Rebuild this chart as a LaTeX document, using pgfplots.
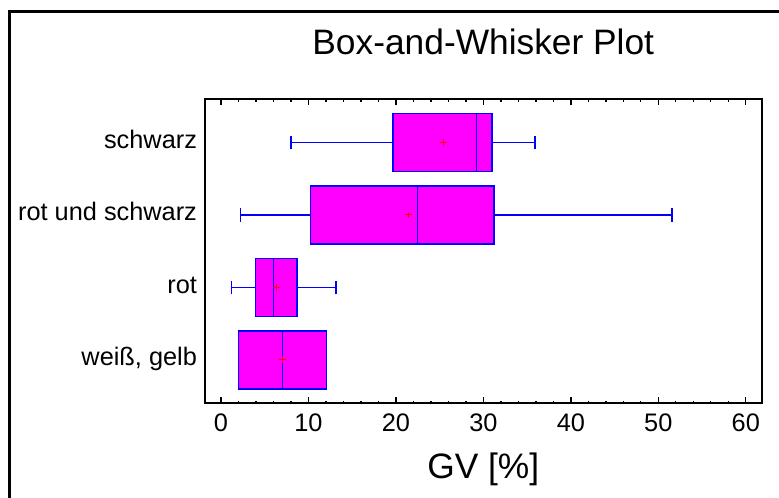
\documentclass[border=0pt]{standalone}
\usepackage{pgfplots}
\pgfplotsset{compat=1.18}
\usepgfplotslibrary{statistics}
\usepackage{fontspec}
\setmainfont{Liberation Sans}

\definecolor{boxfill}{RGB}{255,0,255}
\definecolor{boxline}{RGB}{0,0,255}

\pgfplotsset{
  gvbox/.style={draw=boxline, fill=boxfill, line width=1pt},
}

\begin{document}
\begin{tikzpicture}
\begin{axis}[
    scale only axis,
    width=417.4pt, height=228.2pt,
    xmin=-1.83, xmax=61.8,
    ymin=0.4, ymax=4.6,
    axis line style={line width=1.5pt},
    xtick={0,10,...,60},
    minor x tick num=4,
    tick align=inside,
    xtick pos=both,
    major tick length=4.5pt,
    minor tick length=2pt,
    every tick/.style={black, line width=1pt},
    ytick={1,2,3,4},
    yticklabels={{weiß, gelb},rot,rot und schwarz,schwarz},
    ytick style={draw=none},
    /pgf/number format/assume math mode=true,
    tick label style={font=\fontsize{19}{22}\selectfont},
    xticklabel style={yshift=-4pt},
    yticklabel style={anchor=base east, yshift=-4.5pt, xshift=-2.5pt},
    title={Box-and-Whisker Plot},
    title style={font=\fontsize{26.5}{30}\selectfont, at={(axis description cs:0.5,1)}, anchor=base, yshift=27.75pt},
    xlabel={GV [\%]},
    xlabel style={font=\fontsize{26.5}{30}\selectfont, at={(axis description cs:0.5,0)}, anchor=base, yshift=-56pt},
    boxplot/draw direction=x,
    boxplot/box extend=0.8,
    boxplot/whisker extend=0.19,
]
% schwarz
\addplot[gvbox, boxplot prepared={
    lower whisker=8.0, lower quartile=19.66, median=29.18,
    upper quartile=30.97, upper whisker=35.89, draw position=4}]
    coordinates {};
% rot und schwarz
\addplot[gvbox, boxplot prepared={
    lower whisker=2.25, lower quartile=10.25, median=22.48,
    upper quartile=31.23, upper whisker=51.58, draw position=3}]
    coordinates {};
% rot
\addplot[gvbox, boxplot prepared={
    lower whisker=1.22, lower quartile=3.92, median=5.98,
    upper quartile=8.69, upper whisker=13.14, draw position=2}]
    coordinates {};
% weiss, gelb
\addplot[gvbox, boxplot prepared={
    lower whisker=1.98, lower quartile=1.98, median=7.0,
    upper quartile=12.08, upper whisker=12.08, draw position=1}]
    coordinates {};
% means
\addplot[only marks, mark=+, mark size=2.6pt, red, line width=0.75pt]
    coordinates {(25.49,4) (21.45,3) (6.37,2) (7.05,1)};
\end{axis}
% outer frame (left and top edges only)
\draw[line width=2.25pt, line cap=rect] (-146.6pt,-80pt) -- (-146.6pt,293.85pt) -- (440pt,293.85pt);
\pgfresetboundingbox
\useasboundingbox (-153.75pt,-70.3pt) rectangle (430.5pt,302.5pt);
\end{tikzpicture}
\end{document}
